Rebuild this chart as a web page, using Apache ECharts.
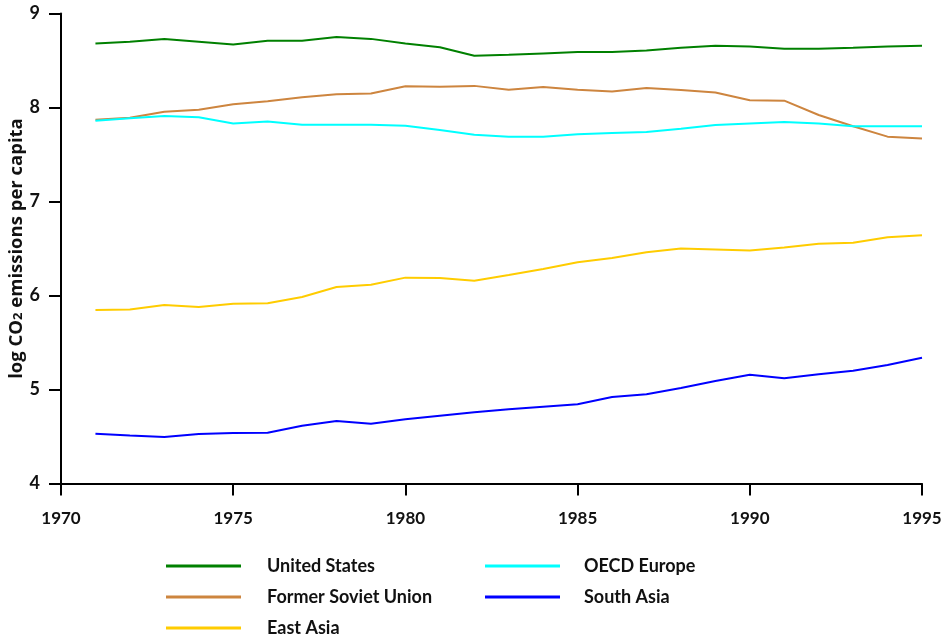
<!DOCTYPE html>
<html>
<head>
<meta charset="utf-8">
<script src="https://cdn.jsdelivr.net/npm/echarts@6/dist/echarts.min.js"></script>
<style>html,body{margin:0;padding:0;background:#fff}#c{width:942px;height:639px}</style>
</head>
<body>
<div id="c"></div>
<script>
const years = [1971,1972,1973,1974,1975,1976,1977,1978,1979,1980,1981,1982,1983,1984,1985,1986,1987,1988,1989,1990,1991,1992,1993,1994,1995];
const unitedStates = [8.68,8.70,8.73,8.70,8.67,8.71,8.71,8.75,8.73,8.68,8.64,8.55,8.56,8.575,8.59,8.59,8.606,8.636,8.657,8.65,8.626,8.626,8.636,8.65,8.657];
const formerSovietUnion = [7.87,7.89,7.955,7.977,8.034,8.066,8.108,8.14,8.15,8.225,8.22,8.23,8.19,8.218,8.19,8.17,8.207,8.186,8.16,8.077,8.073,7.92,7.80,7.69,7.67];
const oecdEurope = [7.86,7.885,7.91,7.896,7.83,7.85,7.817,7.817,7.817,7.806,7.76,7.71,7.69,7.69,7.715,7.73,7.74,7.775,7.814,7.83,7.846,7.83,7.80,7.80,7.80];
const eastAsia = [5.846,5.85,5.90,5.878,5.913,5.917,5.984,6.09,6.115,6.19,6.186,6.157,6.218,6.282,6.353,6.40,6.46,6.50,6.49,6.48,6.51,6.55,6.56,6.62,6.64];
const southAsia = [4.53,4.51,4.495,4.527,4.537,4.54,4.615,4.665,4.636,4.683,4.72,4.757,4.79,4.817,4.842,4.92,4.95,5.016,5.09,5.157,5.12,5.162,5.20,5.26,5.338];
const seriesNames = ['United States','Former Soviet Union','East Asia','OECD Europe','South Asia'];
const seriesValues = [unitedStates, formerSovietUnion, eastAsia, oecdEurope, southAsia];
const seriesColors = ['#008000','#CD853F','#FFCC00','#00FFFF','#0000FF'];

const chart = echarts.init(document.getElementById('c'), null, {renderer:'canvas'});
const font = 'Lato';
const font2 = 'Open Sans';
const series = seriesNames.map((n,i)=>({
  name:n, type:'line', symbol:'none', smooth:false,
  data: years.map((y,j)=>[y, seriesValues[i][j]]),
  lineStyle:{width:2, color:seriesColors[i]},
  itemStyle:{color:seriesColors[i]},
  animation:false
}));
function legendCfg(left, data, padLeft){
  return {
    orient:'vertical', icon:'rect', itemWidth:75, itemHeight:3, itemGap:11,
    left:left, top:556, width:400, height:120, padding:0, data:data,
    textStyle:{fontFamily:font, fontSize:18, fontWeight:'bold', color:'#111', padding:[0,0,0,padLeft], lineHeight:20},
    selectedMode:false
  };
}
chart.setOption({
  animation:false,
  backgroundColor:'#fff',
  grid:{left:61, right:20, top:13.5, bottom:155.5, containLabel:false, outerBoundsMode:'none'},
  legend:[
    legendCfg(166, ['United States','Former Soviet Union','East Asia'], 21),
    legendCfg(485, ['OECD Europe','South Asia'], 19)
  ],
  xAxis:{
    type:'value', min:1970, max:1995, interval:5,
    axisLine:{show:true, lineStyle:{color:'#000', width:2}},
    axisTick:{show:true, length:12, lineStyle:{color:'#000', width:2}},
    axisLabel:{fontFamily:font, fontSize:17, fontWeight:'bold', color:'#111', margin:27, formatter:v=>String(v)},
    splitLine:{show:false}
  },
  yAxis:{
    type:'value', min:4, max:9, interval:1,
    name:'log CO{sub|2} emissions per capita', nameLocation:'middle', nameGap:35, nameRotate:90, nameMoveOverlap:false,
    nameTextStyle:{fontFamily:font2, fontSize:18.5, fontWeight:'bold', color:'#111', rich:{sub:{fontFamily:font2, fontSize:13, fontWeight:'bold', color:'#111', padding:[4,0,0,0]}}},
    axisLine:{show:true, lineStyle:{color:'#000', width:2}},
    axisTick:{show:true, length:12, lineStyle:{color:'#000', width:2}},
    axisLabel:{fontFamily:font, fontSize:18, fontWeight:'bold', color:'#111', margin:21},
    splitLine:{show:false}
  },
  series:series
});
</script>
</body>
</html>
